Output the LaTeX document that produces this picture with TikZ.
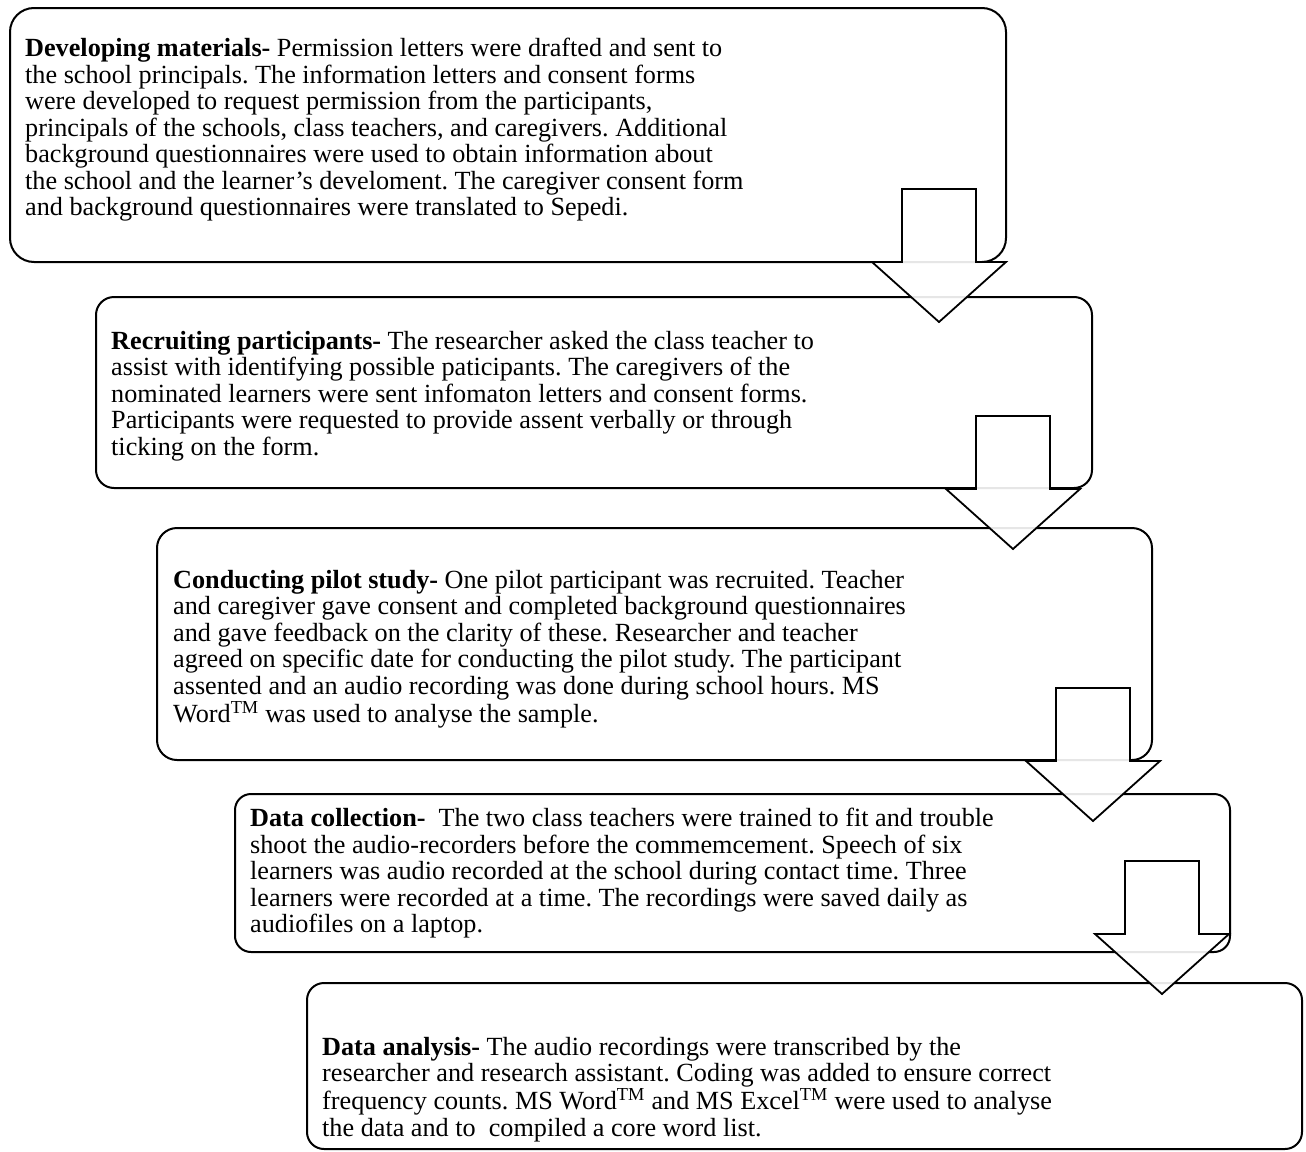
\documentclass[tikz,border=0pt]{standalone}
\usepackage{fontspec}
\setmainfont{Liberation Serif}
\frenchspacing
\begin{document}
\begin{tikzpicture}[x=1pt,y=-1pt,
  box/.style={draw=black, line width=2pt, rounded corners=#1, inner sep=0pt, fill=white},
  box/.default=18pt,
  txt/.style={anchor=north west, inner sep=0pt, align=left, font=\fontsize{26.2}{26.5}\selectfont},
  downarrow/.pic={\draw[line width=1.8pt, fill=white, fill opacity=0.9, line join=miter]
     (-37,-133) -- (37,-133) -- (37,-60) -- (67,-60) -- (0,0) -- (-67,-60) -- (-37,-60) -- cycle;}
]
\useasboundingbox (0,0) rectangle (1306,1151);
% boxes
\node[box=24pt, minimum width=996pt, minimum height=254pt] (b1) at (508,135) {};
\node[box=18pt, minimum width=996pt, minimum height=191pt] (b2) at (594,392.5) {};
\node[box=20pt, minimum width=995pt, minimum height=232pt] (b3) at (654.5,644) {};
\node[box=16pt, minimum width=995pt, minimum height=158pt] (b4) at (732.5,873) {};
\node[box=17pt, minimum width=995pt, minimum height=166pt] (b5) at (804.5,1066) {};
% texts
\node[txt] (t1) at (25,38) {\textbf{Developing materials-} Permission letters were drafted and sent to\\
the school principals. The information letters and consent forms\\
were developed to request permission from the participants,\\
principals of the schools, class teachers, and caregivers. Additional\\
background questionnaires were used to obtain information about\\
the school and the learner's develoment. The caregiver consent form\\
and background questionnaires were translated to Sepedi.};
\node[txt] (t2) at (111,331) {\textbf{Recruiting participants-} The researcher asked the class teacher to\\
assist with identifying possible paticipants. The caregivers of the\\
nominated learners were sent infomaton letters and consent forms.\\
Participants were requested to provide assent verbally or through\\
ticking on the form.};
\node[txt] (t3) at (173,570) {\textbf{Conducting pilot study-} One pilot participant was recruited. Teacher\\
and caregiver gave consent and completed background questionnaires\\
and gave feedback on the clarity of these. Researcher and teacher\\
agreed on specific date for conducting the pilot study. The participant\\
assented and an audio recording was done during school hours. MS\\
Word\textsuperscript{TM} was used to analyse the sample.};
\node[txt] (t4) at (250,808) {\textbf{Data collection-}\ \ The two class teachers were trained to fit and trouble\\
shoot the audio-recorders before the commemcement. Speech of six\\
learners was audio recorded at the school during contact time. Three\\
learners were recorded at a time. The recordings were saved daily as\\
audiofiles on a laptop.};
\node[txt] (t5) at (322,1037) {\textbf{Data analysis-} The audio recordings were transcribed by the\\
researcher and research assistant. Coding was added to ensure correct\\
frequency counts. MS Word\textsuperscript{TM} and MS Excel\textsuperscript{TM} were used to analyse\\
the data and to\ \ compiled a core word list.};
% arrows
\pic at (939,322) {downarrow};
\pic at (1013,549) {downarrow};
\pic at (1093,821) {downarrow};
\pic at (1162,994) {downarrow};
\end{tikzpicture}
\end{document}
